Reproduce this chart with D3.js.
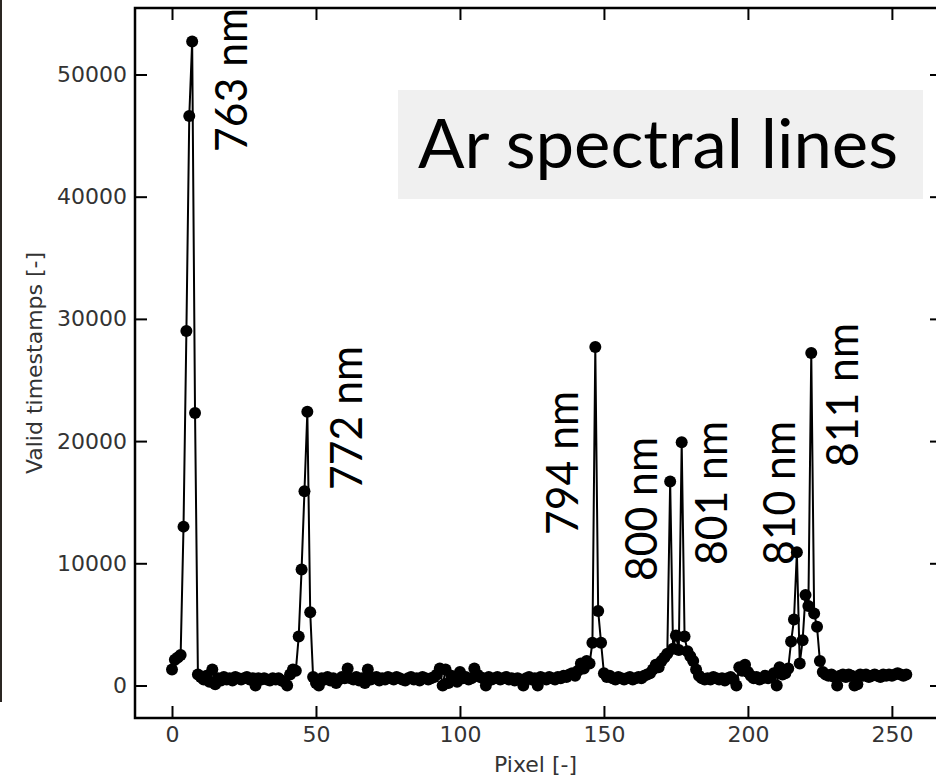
<!DOCTYPE html>
<html>
<head>
<meta charset="utf-8">
<script src="https://cdn.jsdelivr.net/npm/d3@7.9.0/dist/d3.min.js"></script>
<style>
  html, body { margin: 0; padding: 0; background: #fff; }
  svg { display: block; }
</style>
</head>
<body>
<svg></svg>
<script>
// Valid timestamps per pixel (pixel index = array index, 0..255)
const counts = [
  1300, 2100, 2300, 2500, 13000, 29000, 46600, 52700, 22300, 900,
  700, 500, 800, 300, 1300, 100, 600, 400, 700, 500,
  600, 400, 700, 600, 500, 600, 700, 500, 600, 0,
  600, 500, 600, 500, 400, 600, 500, 600, 400, 300,
  0, 900, 1300, 1200, 4000, 9500, 15900, 22400, 6000, 700,
  200, 0, 600, 500, 700, 400, 600, 200, 500, 700,
  600, 1400, 600, 500, 700, 400, 600, 200, 1300, 500,
  600, 700, 400, 600, 500, 700, 600, 500, 700, 600,
  500, 400, 600, 700, 500, 600, 400, 700, 600, 500,
  600, 700, 900, 1400, 0, 1300, 200, 800, 600, 300,
  1100, 600, 700, 500, 600, 1400, 900, 700, 600, 0,
  700, 500, 600, 700, 500, 600, 700, 500, 600, 400,
  600, 500, 0, 600, 700, 500, 600, 0, 700, 600,
  500, 700, 600, 500, 700, 600, 800, 700, 900, 1000,
  800, 1200, 1800, 1400, 2000, 1800, 3500, 27700, 6100, 3500,
  1000, 700, 800, 600, 500, 700, 600, 500, 600, 700,
  500, 600, 700, 600, 800, 900, 1000, 1300, 1700, 1500,
  2000, 2300, 2600, 16700, 3000, 4100, 2900, 19900, 4000, 2800,
  2400, 2000, 1300, 800, 600, 500, 600, 500, 700, 600,
  500, 600, 400, 600, 700, 500, 0, 1500, 1200, 1700,
  1100, 800, 600, 700, 500, 600, 800, 600, 700, 1000,
  0, 1500, 900, 1000, 1400, 3600, 5400, 10900, 1800, 3700,
  7400, 6500, 27200, 5900, 4800, 2000, 1100, 900, 800, 900,
  700, 0, 800, 900, 700, 900, 800, 0, 100, 900,
  800, 900, 700, 800, 900, 800, 700, 900, 800, 900,
  800, 900, 1000, 900, 800, 900
];

const xTicks = [0, 50, 100, 150, 200, 250];
const yTicks = [0, 10000, 20000, 30000, 40000, 50000];

// Spectral line labels and where their text starts (pixel, count)
const lineNames = ["763 nm", "772 nm", "794 nm", "800 nm", "801 nm", "810 nm", "811 nm"];
const labelPixel = [26.0, 66.0, 141.0, 168.4, 192.7, 216.3, 238.2];
const labelCount = [43660, 16000, 12320, 8550, 9860, 9860, 17880];

const titleText = "Ar spectral lines";

const width = 936;
const height = 782;
const plot = { left: 135, top: 8, right: 942, bottom: 718 };

const svg = d3.select("svg")
  .attr("width", width)
  .attr("height", height)
  .style("font-family", "DejaVu Sans");

svg.append("rect")
  .attr("width", width).attr("height", height)
  .attr("fill", "#fff");

// dark strip along the left edge of the screenshot
svg.append("rect")
  .attr("x", 0).attr("y", 0)
  .attr("width", 2).attr("height", 702)
  .attr("fill", "#2b2622");

const x = d3.scaleLinear()
  .domain([-12.85, 267.4])
  .range([plot.left, plot.right]);

const y = d3.scaleLinear()
  .domain([-2660, 55440])
  .range([plot.bottom, plot.top]);

const data = counts.map((v, i) => ({ pixel: i, count: v }));

// axes (ticks pointing inward)
const tickLen = 12;
const styleAxis = g => {
  g.select(".domain").remove();
  g.selectAll(".tick line").attr("stroke", "#000").attr("stroke-width", 2);
  g.selectAll(".tick text")
    .attr("fill", "#333")
    .style("font-family", "DejaVu Sans")
    .style("font-size", "22px");
};

svg.append("g")
  .attr("transform", `translate(${plot.left},0)`)
  .call(d3.axisLeft(y).tickValues(yTicks).tickFormat(d3.format("d"))
    .tickSizeInner(-tickLen).tickSizeOuter(0).tickPadding(8))
  .call(styleAxis);

svg.append("g")
  .attr("transform", `translate(${plot.right},0)`)
  .call(d3.axisRight(y).tickValues(yTicks).tickFormat("")
    .tickSizeInner(-tickLen).tickSizeOuter(0))
  .call(styleAxis);

svg.append("g")
  .attr("transform", `translate(0,${plot.bottom})`)
  .call(d3.axisBottom(x).tickValues(xTicks).tickFormat(d3.format("d"))
    .tickSizeInner(-tickLen).tickSizeOuter(0).tickPadding(8))
  .call(styleAxis);

svg.append("g")
  .attr("transform", `translate(0,${plot.top})`)
  .call(d3.axisTop(x).tickValues(xTicks).tickFormat("")
    .tickSizeInner(-tickLen).tickSizeOuter(0))
  .call(styleAxis);

// frame
svg.append("rect")
  .attr("x", plot.left).attr("y", plot.top)
  .attr("width", plot.right - plot.left)
  .attr("height", plot.bottom - plot.top)
  .attr("fill", "none")
  .attr("stroke", "#000")
  .attr("stroke-width", 2.5);

// axis labels
svg.append("text")
  .attr("x", (plot.left + 936) / 2)
  .attr("y", 772)
  .attr("text-anchor", "middle")
  .attr("fill", "#333")
  .style("font-size", "22px")
  .text("Pixel [-]");

svg.append("text")
  .attr("transform", `translate(42,${(plot.top + plot.bottom) / 2}) rotate(-90)`)
  .attr("text-anchor", "middle")
  .attr("fill", "#333")
  .style("font-size", "22px")
  .text("Valid timestamps [-]");

// title box
const title = svg.append("g");
title.append("rect")
  .attr("x", 398).attr("y", 90)
  .attr("width", 525).attr("height", 109)
  .attr("fill", "#f0f0f0");
title.append("text")
  .attr("x", 418).attr("y", 168)
  .attr("fill", "#000")
  .style("font-family", "Lato")
  .style("font-size", "68px")
  .attr("textLength", 480)
  .attr("lengthAdjust", "spacingAndGlyphs")
  .text(titleText);

// spectrum line + markers
const line = d3.line()
  .x(d => x(d.pixel))
  .y(d => y(d.count));

svg.append("path")
  .datum(data)
  .attr("fill", "none")
  .attr("stroke", "#000")
  .attr("stroke-width", 2)
  .attr("d", line);

svg.append("g")
  .selectAll("circle")
  .data(data)
  .join("circle")
  .attr("cx", d => x(d.pixel))
  .attr("cy", d => y(d.count))
  .attr("r", 6)
  .attr("fill", "#000");

// line annotations
svg.append("g")
  .selectAll("text")
  .data(lineNames)
  .join("text")
  .attr("transform", (d, i) => `translate(${x(labelPixel[i])},${y(labelCount[i])}) rotate(-90)`)
  .attr("fill", "#000")
  .style("font-family", "Lato")
  .style("font-size", "44px")
  .attr("textLength", 144)
  .attr("lengthAdjust", "spacingAndGlyphs")
  .text(d => d);
</script>
</body>
</html>
